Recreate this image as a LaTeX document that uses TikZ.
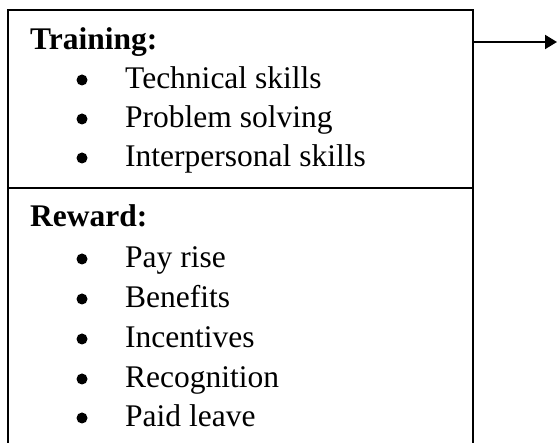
\documentclass[tikz,border=0pt]{standalone}
\usepackage{fontspec}
\setmainfont{Liberation Serif}
\usetikzlibrary{arrows.meta}
\begin{document}
\begin{tikzpicture}[x=1pt,y=-1pt,
  frame/.style={line width=2pt,draw=black},
  head/.style={anchor=base west,inner sep=0pt,font=\fontsize{31.5}{36}\selectfont\bfseries},
  item/.style={anchor=base west,inner sep=0pt,font=\fontsize{31.5}{36}\selectfont},
  dot/.style={circle,fill=black,inner sep=0pt,minimum size=11pt}]
\useasboundingbox (0,0) rectangle (557,443);
% frame
\coordinate (tl) at (8,10);
\coordinate (tr) at (472.5,10);
\coordinate (ml) at (8,188);
\coordinate (mr) at (472.5,188);
\coordinate (bl) at (8,443);
\coordinate (br) at (472.5,443);
\draw[frame] (bl) -- (tl) -- (tr) -- (br);
\draw[frame] (ml) -- (mr);
% arrow
\coordinate (as) at (472.5,42);
\coordinate (tip) at (557,42);
\draw[line width=2pt,-{Triangle[length=12pt,width=14pt]}] (as) -- (tip);
% training
\node[head] (th) at (30,50) {Training:};
\foreach \y/\t/\n in {89/Technical skills/t1,128/Problem solving/t2,167/Interpersonal skills/t3}{
  \node[dot] (b\n) at (82,\y-9) {};
  \node[item] (\n) at (125,\y) {\t};
}
% reward
\node[head] (rh) at (30,227) {Reward:};
\foreach \y/\t/\n in {268/Pay rise/r1,308/Benefits/r2,348/Incentives/r3,388/Recognition/r4,427/Paid leave/r5}{
  \node[dot] (b\n) at (82,\y-9) {};
  \node[item] (\n) at (125,\y) {\t};
}
\end{tikzpicture}
\end{document}
